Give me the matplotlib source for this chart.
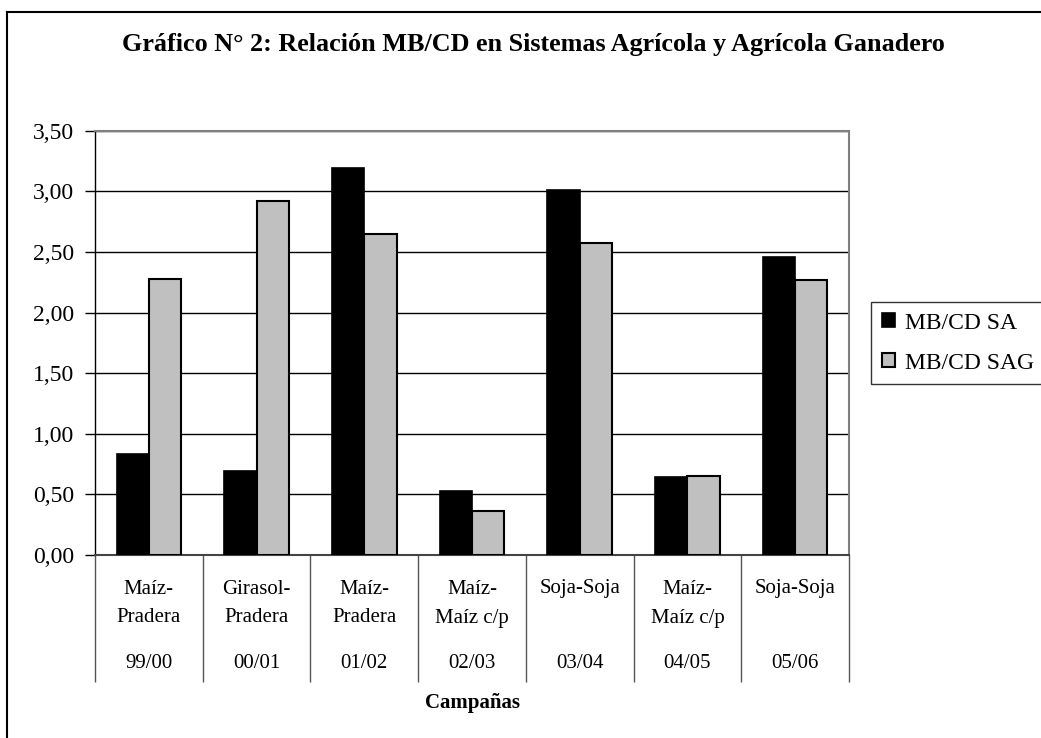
import numpy as np
import matplotlib.pyplot as plt
from matplotlib.lines import Line2D
from matplotlib.transforms import blended_transform_factory

plt.rcParams['font.family'] = ['Liberation Serif', 'DejaVu Serif']

cultivos = ["Maíz-\nPradera", "Girasol-\nPradera", "Maíz-\nPradera", "Maíz-\nMaíz c/p",
            "Soja-Soja", "Maíz-\nMaíz c/p", "Soja-Soja"]
campanas = ["99/00", "00/01", "01/02", "02/03", "03/04", "04/05", "05/06"]
mb_cd_sa = [0.83, 0.69, 3.19, 0.53, 3.01, 0.64, 2.46]
mb_cd_sag = [2.28, 2.92, 2.65, 0.36, 2.57, 0.65, 2.27]
yticks = [0.0, 0.5, 1.0, 1.5, 2.0, 2.5, 3.0, 3.5]

W, H = 1041, 738
fig = plt.figure(figsize=(W / 100, H / 100), dpi=100)
ax = fig.add_axes([95 / W, 1 - 555 / H, (849 - 95) / W, (555 - 130.7) / H])

x = np.arange(len(campanas))
bw = 0.3
ax.bar(x - bw / 2, mb_cd_sa, bw, color='black', edgecolor='black', lw=1.2,
       label='MB/CD SA', zorder=3)
ax.bar(x + bw / 2, mb_cd_sag, bw, color='#c0c0c0', edgecolor='black', lw=1.5,
       label='MB/CD SAG', zorder=3)

ax.set_xlim(-0.5, len(campanas) - 0.5)
ax.set_ylim(0, 3.5)
ax.set_yticks(yticks)
ax.set_yticklabels([f"{v:.2f}".replace('.', ',') for v in yticks], fontsize=17)
ax.tick_params(axis='y', direction='out', length=7, width=1, pad=8, color='black')
ax.set_xticks([])
ax.grid(axis='y', color='black', lw=1, zorder=0)

for s in ['top', 'right']:
    ax.spines[s].set_color('#808080')
    ax.spines[s].set_linewidth(1.5)
ax.spines['left'].set_color('black')
ax.spines['bottom'].set_color('#444444')
ax.spines['left'].set_linewidth(1)
ax.spines['bottom'].set_linewidth(1.5)

# multi-level category labels below the axis
trans = blended_transform_factory(ax.transData, ax.transAxes)
hpx = 555 - 130.7


def ya(py):
    return (555 - py) / hpx


ax.vlines(np.arange(len(campanas) + 1) - 0.5, ya(682), 0, transform=trans,
          color='#555555', lw=1, clip_on=False)
for i, (c, camp) in enumerate(zip(cultivos, campanas)):
    lines = c.split('\n')
    for j, ln in enumerate(lines):
        ax.text(i, ya(589 + 29 * j), ln, transform=trans, ha='center', va='center',
                fontsize=15)
    ax.text(i, ya(663), camp, transform=trans, ha='center', va='center', fontsize=15)

fig.text(472 / W, 1 - 703 / H, "Campañas", ha='center', va='center',
         fontsize=15, fontweight='bold')
fig.text(533 / W, 1 - 51 / H,
         "Gráfico N° 2: Relación MB/CD en Sistemas Agrícola y Agrícola Ganadero",
         ha='center', va='baseline', fontsize=18.8, fontweight='bold')

leg = ax.legend(loc='upper left', bbox_to_anchor=(871 / W, 1 - 302 / H),
                bbox_transform=fig.transFigure, borderaxespad=0, fontsize=17,
                frameon=True, fancybox=False, edgecolor='black',
                handlelength=0.55, handleheight=0.55, handletextpad=0.45,
                labelspacing=0.8, borderpad=0.45)
leg.get_frame().set_linewidth(1)

# outer chart frame (cut off at the right and bottom edges)
fig.add_artist(Line2D([7 / W, 7 / W], [-0.1, 1 - 12 / H], transform=fig.transFigure,
                      color='black', lw=1.5))
fig.add_artist(Line2D([7 / W, 1.1], [1 - 12 / H, 1 - 12 / H], transform=fig.transFigure,
                      color='black', lw=1.5))

fig.savefig('out.png', dpi=100)
